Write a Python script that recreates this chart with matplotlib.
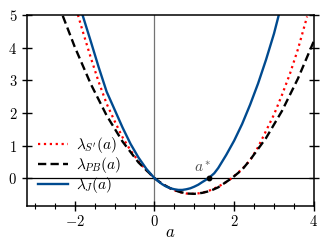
import matplotlib
matplotlib.use("Agg")
import matplotlib.pyplot as plt
from matplotlib.ticker import MultipleLocator, FuncFormatter

plt.rcParams['mathtext.fontset'] = 'cm'
plt.rcParams['font.family'] = 'serif'
plt.rcParams['font.serif'] = ['DejaVu Serif']

# values
a_J = [-1.8, -1.6, -1.4, -1.2, -1.0, -0.8, -0.6, -0.4, -0.2, 0.0, 0.1, 0.2, 0.3, 0.4, 0.5,
       0.6, 0.7, 0.8, 0.9, 1.0, 1.1, 1.2, 1.36, 1.5, 1.6, 1.8, 2.0, 2.2, 2.4, 2.6, 2.8,
       3.0, 3.12]
lam_J = [4.98, 4.2, 3.4, 2.65, 2.1, 1.55, 1.05, 0.63, 0.28, 0.0, -0.1, -0.19, -0.26, -0.31,
         -0.34, -0.36, -0.36, -0.34, -0.31, -0.26, -0.2, -0.12, 0.0, 0.15, 0.31, 0.71, 1.15,
         1.66, 2.25, 2.9, 3.63, 4.43, 5.0]

a_PB = [-2.3, -2.0, -1.6, -1.2, -0.8, -0.4, 0.0, 0.2, 0.4, 0.6, 0.8, 1.0, 1.2, 1.4, 1.6,
        1.94, 2.2, 2.4, 2.8, 3.2, 3.6, 4.0]
lam_PB = [4.97, 4.02, 2.89, 1.92, 1.12, 0.48, 0.0, -0.18, -0.31, -0.41, -0.47, -0.48, -0.45,
          -0.39, -0.28, 0.0, 0.26, 0.56, 1.23, 2.06, 3.05, 4.2]

a_S = [-1.92, -1.8, -1.6, -1.4, -1.2, -1.0, -0.8, -0.6, -0.4, -0.2, 0.0, 0.2, 0.4, 0.6,
       0.8, 1.0, 1.2, 1.4, 1.6, 1.8, 1.94, 2.2, 2.4, 2.6, 2.8, 3.0, 3.2, 3.4, 3.6, 3.83]
lam_S = [5.0, 4.5, 3.7, 2.95, 2.28, 1.75, 1.25, 0.85, 0.52, 0.24, 0.0, -0.18, -0.32, -0.42,
         -0.47, -0.48, -0.45, -0.37, -0.26, -0.12, 0.0, 0.28, 0.55, 0.95, 1.45, 1.95, 2.55,
         3.2, 3.95, 4.95]

a_star = 1.36

fig = plt.figure(figsize=(3.28, 2.4), dpi=100)
ax = fig.add_axes([0.082, 0.142, 0.875, 0.796])

ax.axvline(0, color='0.45', linewidth=0.9, zorder=1)
ax.axhline(0, color='black', linewidth=0.9, zorder=1)

ax.plot(a_S, lam_S, linestyle=':', color='red', linewidth=1.6, label=r'$\lambda_{S^\prime}(a)$')
ax.plot(a_PB, lam_PB, linestyle=(0, (3.5, 1.8)), color='black', linewidth=1.7,
        label=r'$\lambda_{PB}(a)$')
ax.plot(a_J, lam_J, color='#004a8f', linewidth=1.7, label=r'$\lambda_J(a)$')

ax.plot([a_star], [0], 'o', color='black', markersize=3.2, zorder=5)
ax.text(a_star - 0.15, 0.33, r'$a^*$', color='0.3', fontsize=11, ha='center', va='center')

ax.set_xlim(-3.2, 4)
ax.set_ylim(-0.85, 5)
ax.xaxis.set_major_locator(MultipleLocator(2))
ax.xaxis.set_minor_locator(MultipleLocator(0.5))
ax.yaxis.set_major_locator(MultipleLocator(1))
fmt = FuncFormatter(lambda v, p: r'$%g$' % v)
ax.xaxis.set_major_formatter(fmt)
ax.yaxis.set_major_formatter(fmt)
ax.tick_params(axis='both', which='major', direction='inout', length=7, width=1.0, labelsize=10.5)
ax.tick_params(axis='x', which='minor', direction='inout', length=4, width=0.8)
ax.tick_params(axis='y', which='both', right=True)
ax.tick_params(axis='x', pad=2)
for s in ax.spines.values():
    s.set_linewidth(1.1)

ax.set_xlabel(r'$a$', fontsize=12, labelpad=-3)

ax.legend(loc='lower left', frameon=False, fontsize=11, handlelength=2.0,
          handletextpad=0.5, labelspacing=0.0, borderaxespad=0.3,
          bbox_to_anchor=(0.0, 0.0))

fig.savefig('out.png', dpi=100)
